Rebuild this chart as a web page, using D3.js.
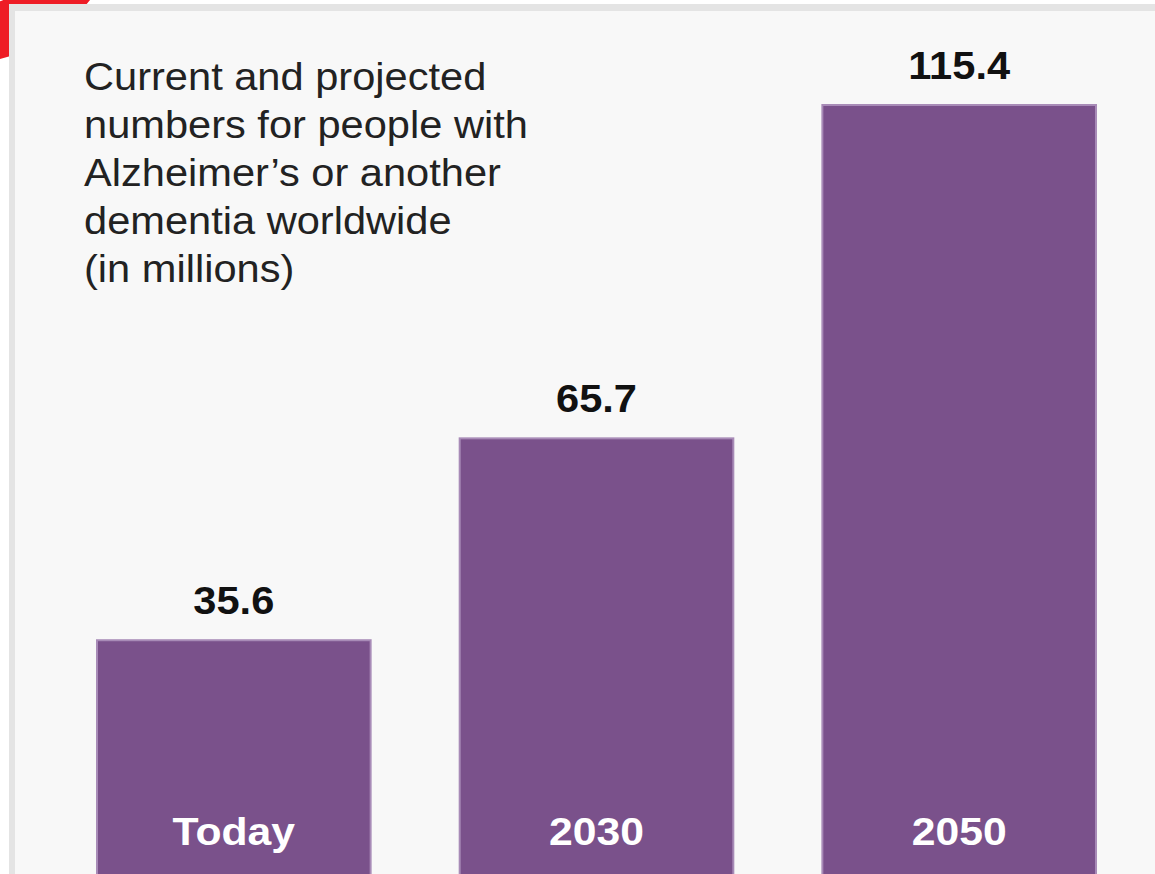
<!DOCTYPE html>
<html>
<head>
<meta charset="utf-8">
<script src="https://cdn.jsdelivr.net/npm/d3@7/dist/d3.min.js"></script>
<style>
  html, body { margin: 0; padding: 0; background: #ffffff; overflow: hidden; }
  svg { display: block; }
</style>
</head>
<body>
<svg id="chart" width="1155" height="874"></svg>
<script>
// ---- data ----
const categories = ["Today", "2030", "2050"];
const values = [35.6, 65.7, 115.4];
const valueLabels = ["35.6", "65.7", "115.4"];
const titleLines = [
  "Current and projected",
  "numbers for people with",
  "Alzheimer\u2019s or another",
  "dementia worldwide",
  "(in millions)"
];

// ---- layout ----
const W = 1155, H = 874;
const sx = 1.095; // horizontal stretch seen in the reference
const font = "'Liberation Sans', Arial, Helvetica, sans-serif";
const svg = d3.select("#chart");

// red ring in the corner (logo fragment)
svg.append("circle")
  .attr("cx", -40).attr("cy", -100).attr("r", 136.5)
  .attr("fill", "none").attr("stroke", "#ee1c25").attr("stroke-width", 55);

// panel with border
svg.append("rect").attr("x", 9).attr("y", 4).attr("width", W).attr("height", H)
  .attr("fill", "#e4e4e4");
svg.append("rect").attr("x", 15).attr("y", 11).attr("width", W).attr("height", H)
  .attr("fill", "#f8f8f8");

// scales
const x = d3.scaleBand().domain(categories).range([96, 1097]).paddingInner(0.24).paddingOuter(0);
const y = d3.scaleLinear().domain([0, 115.4]).range([878, 104]);

const data = categories.map((c, i) => ({ c, v: values[i], label: valueLabels[i] }));

// bars
svg.append("g").selectAll("rect").data(data).join("rect")
  .attr("x", d => x(d.c) + 1)
  .attr("y", d => y(d.v) + 1)
  .attr("width", x.bandwidth() - 2)
  .attr("height", d => y(0) - y(d.v))
  .attr("fill", "#7a518b")
  .attr("stroke", "#a88bb7")
  .attr("stroke-width", 2);

// value labels
svg.append("g").selectAll("g").data(data).join("g")
  .attr("transform", d => `translate(${x(d.c) + x.bandwidth() / 2},${y(d.v) - 25}) scale(${sx},1)`)
  .append("text")
  .attr("text-anchor", "middle")
  .attr("font-family", font).attr("font-weight", "bold").attr("font-size", 38)
  .attr("fill", "#111111")
  .text(d => d.label);

// category labels inside bars
svg.append("g").selectAll("g").data(data).join("g")
  .attr("transform", d => `translate(${x(d.c) + x.bandwidth() / 2},${845}) scale(${sx},1)`)
  .append("text")
  .attr("text-anchor", "middle")
  .attr("font-family", font).attr("font-weight", "bold").attr("font-size", 39)
  .attr("fill", "#ffffff")
  .text(d => d.c);

// title
const tg = svg.append("g").attr("transform", `translate(84,90) scale(${sx},1)`);
tg.selectAll("text").data(titleLines).join("text")
  .attr("x", 0).attr("y", (d, i) => i * 48)
  .attr("font-family", font).attr("font-size", 38)
  .attr("fill", "#222222")
  .text(d => d);
</script>
</body>
</html>
